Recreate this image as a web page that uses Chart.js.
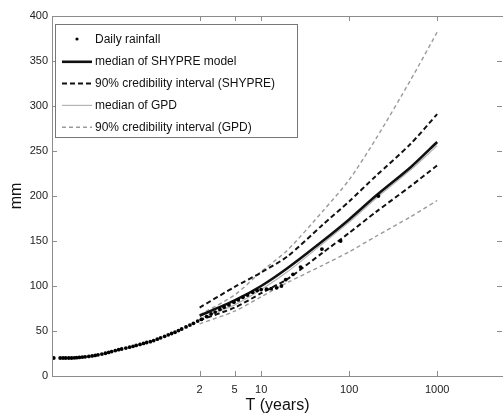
<!DOCTYPE html>
<html>
<head>
<meta charset="utf-8">
<script src="https://cdn.jsdelivr.net/npm/chart.js@4.4.1/dist/chart.umd.min.js"></script>
<style>
  html, body { margin: 0; padding: 0; background: #fff; }
  #wrap { width: 503px; height: 415px; position: relative; }
</style>
</head>
<body>
<div id="wrap"><canvas id="chart"></canvas></div>
<script>
// ======================
// DATA
// ======================
// observed daily rainfall, return period (years) and depth (mm)
const obsT = [0.044, 0.052, 0.056, 0.06, 0.065, 0.07, 0.075, 0.08, 0.086, 0.093,
  0.1, 0.11, 0.12, 0.13, 0.14, 0.155, 0.17, 0.185, 0.2, 0.22,
  0.24, 0.26, 0.29, 0.32, 0.35, 0.38, 0.42, 0.46, 0.5, 0.55,
  0.6, 0.66, 0.72, 0.8, 0.88, 0.96, 1.05, 1.15, 1.25, 1.4,
  1.55, 1.7, 1.9, 2.1, 2.4, 2.7, 3, 3.4, 3.8, 4.3,
  4.9, 5.5, 6.2, 7, 8, 9, 10, 11.5, 13, 15,
  17, 19, 23, 28, 49, 80, 215];
const obsMm = [20, 20, 20, 20, 20, 20, 20.2, 20.4, 20.6, 21,
  21.3, 21.8, 22.3, 22.9, 23.5, 24.4, 25.3, 26.2, 27.1, 28.2,
  29.3, 30, 31, 32, 33, 34, 35.1, 36.2, 37.2, 38.1,
  39.4, 40.9, 42.4, 44.1, 45.8, 47.2, 48.6, 50.5, 52.2, 54.5,
  56.6, 58.5, 61, 63, 66, 69, 71, 74, 76.5, 79,
  82, 84.5, 87.5, 90, 93, 95, 96, 96.5, 97, 98,
  100, 107, 113, 121, 141, 150, 200];

// fitted curves
const lineT = [2, 5, 10, 20, 50, 100, 200, 500, 1000];
const shypreMedian = [67, 84, 100, 120, 150, 174, 200, 232, 260];
const shypreUpper = [76, 99, 115, 133, 168, 194, 222, 258, 291];
const shypreLower = [62, 76, 92, 108, 137, 159, 182, 211, 234];
const gpdMedian = [64, 79, 96, 116, 147, 171, 197, 229, 256];
const gpdUpper = [68, 90, 116, 140, 183, 218, 263, 329, 382];
const gpdLower = [58, 72, 88, 104, 123, 138, 155, 177, 195];

// axes
const xTicks = [2, 5, 10, 100, 1000];
const yTicks = [0, 50, 100, 150, 200, 250, 300, 350, 400];

const FONT = '"Liberation Sans", Arial, Helvetica, sans-serif';

function pts(xs, ys) {
  return xs.map((x, i) => ({ x: x, y: ys[i] }));
}

// ======================
// STYLES
// ======================
const shypreLine = { borderColor: '#111', borderWidth: 2.6 };
const shypreCI = { borderColor: '#111', borderWidth: 2, borderDash: [5, 3] };
const gpdLine = { borderColor: '#b4b4b4', borderWidth: 1.2 };
const gpdCI = { borderColor: '#9a9a9a', borderWidth: 1.4, borderDash: [4, 3] };

function lineSet(label, ys, style) {
  return Object.assign({
    label: label,
    data: pts(lineT, ys),
    showLine: true,
    pointRadius: 0,
    tension: 0.25,
    fill: false
  }, style);
}

const datasets = [
  {
    label: 'Daily rainfall',
    data: pts(obsT, obsMm),
    showLine: false,
    pointRadius: 1.9,
    pointBackgroundColor: '#000',
    pointBorderWidth: 0
  },
  lineSet('median of SHYPRE model', shypreMedian, shypreLine),
  lineSet('90% credibility interval (SHYPRE)', shypreUpper, shypreCI),
  lineSet('', shypreLower, shypreCI),
  lineSet('median of GPD', gpdMedian, gpdLine),
  lineSet('90% credibility interval (GPD)', gpdUpper, gpdCI),
  lineSet('', gpdLower, gpdCI)
];

// ======================
// FRAME + INWARD TICKS + LEGEND BOX
// ======================
const framePlugin = {
  id: 'frame',
  afterDraw(chart) {
    const ctx = chart.ctx;
    const a = chart.chartArea;
    const xs = chart.scales.x, ys = chart.scales.y;
    const len = 5;
    ctx.save();
    ctx.strokeStyle = '#8c8c8c';
    ctx.lineWidth = 1;
    ctx.strokeRect(Math.round(a.left) + 0.5, Math.round(a.top) + 0.5,
      Math.round(a.right - a.left), Math.round(a.bottom - a.top));
    ctx.beginPath();
    xTicks.forEach(v => {
      const px = Math.round(xs.getPixelForValue(v)) + 0.5;
      ctx.moveTo(px, a.bottom); ctx.lineTo(px, a.bottom - len);
      ctx.moveTo(px, a.top); ctx.lineTo(px, a.top + len);
    });
    yTicks.forEach(v => {
      const py = Math.round(ys.getPixelForValue(v)) + 0.5;
      ctx.moveTo(a.left, py); ctx.lineTo(a.left + len, py);
      ctx.moveTo(a.right - 1, py); ctx.lineTo(a.right - 1 - len, py);
    });
    ctx.stroke();

    // legend
    const bx = 55.5, by = 24.5, bw = 242, bh = 113;
    ctx.fillStyle = '#fff';
    ctx.fillRect(bx, by, bw, bh);
    ctx.strokeStyle = '#777';
    ctx.strokeRect(bx, by, bw, bh);
    ctx.font = '12px ' + FONT;
    ctx.textBaseline = 'middle';
    let rowY = 40;
    chart.data.datasets.forEach(ds => {
      if (!ds.label) return;
      if (!ds.showLine) {
        ctx.fillStyle = '#000';
        ctx.beginPath();
        ctx.arc(77, rowY - 1, 1.6, 0, Math.PI * 2);
        ctx.fill();
      } else {
        ctx.strokeStyle = ds.borderColor;
        ctx.lineWidth = ds.borderWidth;
        ctx.setLineDash(ds.borderDash || []);
        ctx.beginPath();
        ctx.moveTo(62, rowY);
        ctx.lineTo(92, rowY);
        ctx.stroke();
        ctx.setLineDash([]);
      }
      ctx.fillStyle = '#111';
      ctx.fillText(ds.label, 95, rowY);
      rowY += 21.8;
    });
    ctx.restore();
  }
};

// ======================
// CHART
// ======================
new Chart(document.getElementById('chart'), {
  type: 'scatter',
  data: { datasets: datasets },
  plugins: [framePlugin],
  options: {
    responsive: true,
    maintainAspectRatio: false,
    animation: false,
    layout: { autoPadding: false, padding: { top: 16, right: 0, left: 0, bottom: 0 } },
    plugins: {
      legend: { display: false },
      tooltip: { enabled: false }
    },
    scales: {
      x: {
        type: 'logarithmic',
        min: 0.042,
        max: 5600,
        grid: { display: false, drawTicks: false },
        border: { display: false },
        afterBuildTicks: scale => {
          scale.ticks = xTicks.map(v => ({ value: v }));
        },
        afterFit: scale => {
          scale.height = 39;
          scale.paddingLeft = 0;
          scale.paddingRight = 0;
        },
        ticks: {
          autoSkip: false,
          maxRotation: 0,
          padding: 7,
          color: '#222',
          font: { family: FONT, size: 11 },
          callback: v => String(v)
        },
        title: {
          display: true,
          text: 'T (years)',
          color: '#111',
          font: { family: FONT, size: 16 },
          padding: { top: 0, bottom: 0 }
        }
      },
      y: {
        min: 0,
        max: 400,
        grid: { display: false, drawTicks: false },
        border: { display: false },
        afterBuildTicks: scale => {
          scale.ticks = yTicks.map(v => ({ value: v }));
        },
        afterFit: scale => { scale.width = 52; },
        ticks: {
          padding: 4,
          color: '#222',
          font: { family: FONT, size: 11 }
        },
        title: {
          display: true,
          text: 'mm',
          color: '#111',
          font: { family: FONT, size: 16 },
          padding: { top: 7, bottom: 0 }
        }
      }
    }
  }
});
</script>
</body>
</html>
